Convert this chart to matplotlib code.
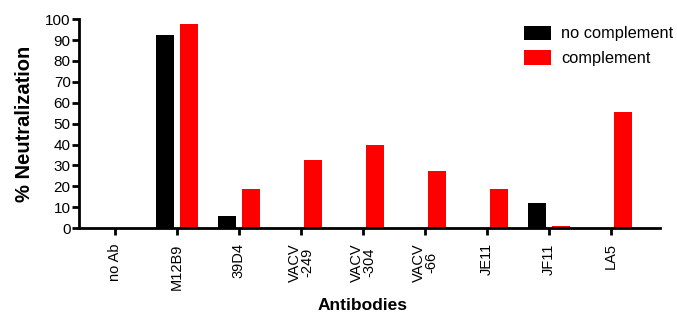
import matplotlib.pyplot as plt
import numpy as np

plt.rcParams['font.family'] = ['Liberation Sans', 'DejaVu Sans']

# datos
anticuerpos = ['no Ab', 'M12B9', '39D4', 'VACV\n-249', 'VACV\n-304', 'VACV\n-66', 'JE11', 'JF11', 'LA5']
no_complemento = [0, 92.5, 6, 0, 0, 0, 0, 12, 0]
complemento = [0, 97.5, 18.5, 32.5, 40, 27.5, 18.5, 1, 55.5]

x = np.arange(len(anticuerpos))
ancho = 0.29

fig = plt.figure(figsize=(6.77, 3.19), dpi=100)
ax = fig.add_axes([0.1167, 0.285, 0.858, 0.655])

ax.bar(x - 0.19, no_complemento, ancho, color='black', label='no complement')
ax.bar(x + 0.19, complemento, ancho, color='#ff0000', label='complement')

ax.set_xlim(-0.58, 8.79)
ax.set_ylim(0, 100)
ax.set_yticks(range(0, 101, 10))
ax.set_xticks(x)
ax.set_xticklabels(anticuerpos, rotation=90, fontsize=10.5, va='top', linespacing=0.9)
ax.tick_params(axis='y', labelsize=11, width=2, length=5, pad=1)
ax.tick_params(axis='x', width=2, length=5, pad=6)

for lado in ['top', 'right']:
    ax.spines[lado].set_visible(False)
for lado in ['left', 'bottom']:
    ax.spines[lado].set_linewidth(2)

ax.set_ylabel('% Neutralization', fontsize=14.5, fontweight='bold', labelpad=8)
fig.text(0.536, 1 - 306 / 319, 'Antibodies', fontsize=12.5, fontweight='bold',
         ha='center', va='center')

ax.legend(loc='upper left', bbox_to_anchor=(0.74, 1.04), frameon=False, fontsize=11.8,
          handlelength=1.7, handleheight=1.0, handletextpad=0.6, labelspacing=0.55)

plt.savefig('out.png', dpi=100)
